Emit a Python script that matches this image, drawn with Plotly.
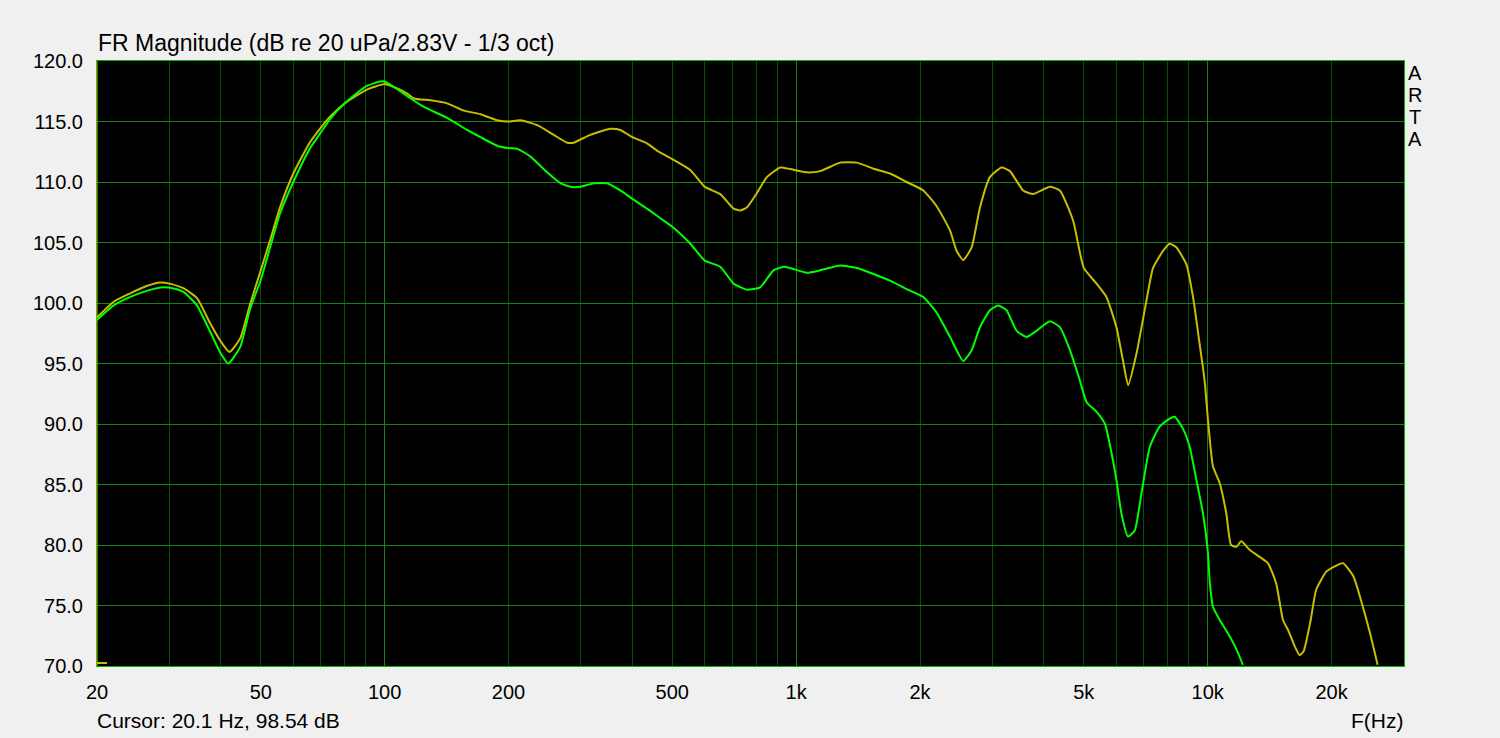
import plotly.graph_objects as go

# ---------------- data ----------------
freq_yellow = [20, 21.95, 24.1, 26.4, 28.5, 30, 32.5, 35, 37.7, 40, 42, 44.6, 47.1, 50, 52.7, 55.7,
               60, 65.9, 70, 73.7, 80, 90, 100, 105.3, 113.5, 117.8, 129.3, 141.9, 155.8, 171, 187.7,
               200, 213.8, 234.8, 257.6, 277.6, 288, 316, 353.6, 374, 400, 434, 459, 500, 553, 600,
               654, 705, 731, 759, 800, 849, 915, 967, 1061, 1144, 1279, 1404, 1541, 1691, 1856,
               2037, 2195, 2365, 2455, 2547, 2670, 2797, 2957, 3157, 3307, 3562, 3767, 4135, 4374,
               4711, 5000, 5370, 5675, 6002, 6230, 6408, 6714, 7100, 7367, 7790, 8087, 8393, 8877,
               9213, 9563, 9830, 10020, 10300, 10700, 11100, 11400, 11740, 12070, 12640, 13130,
               14010, 14680, 15240, 15670, 16290, 16720, 17100, 17800, 18350, 19420, 20550, 21320,
               22610, 23830, 24940, 25880]
db_yellow = [98.8, 100.1, 100.8, 101.4, 101.7, 101.6, 101.2, 100.4, 98.3, 96.8, 95.95, 97.1, 99.9,
             102.7, 105.2, 107.9, 110.7, 113.3, 114.5, 115.4, 116.5, 117.6, 118.1, 117.85, 117.3,
             116.9, 116.75, 116.5, 115.9, 115.6, 115.1, 115.0, 115.1, 114.7, 113.9, 113.25, 113.25,
             113.9, 114.4, 114.3, 113.7, 113.2, 112.6, 111.9, 111.0, 109.6, 109.0, 107.8, 107.65,
             107.9, 109.0, 110.4, 111.2, 111.07, 110.8, 110.9, 111.6, 111.6, 111.1, 110.7, 110.0,
             109.3, 108.0, 106.0, 104.3, 103.55, 104.6, 107.9, 110.4, 111.2, 110.9, 109.3, 109.0,
             109.6, 109.3, 106.8, 102.9, 101.6, 100.5, 98.0, 95.2, 93.2, 95.8, 100.2, 102.9, 104.3,
             104.9, 104.6, 103.2, 100.5, 96.6, 93.6, 90.3, 86.5, 85.1, 82.6, 80.0, 79.85, 80.3,
             79.6, 79.2, 78.5, 76.8, 73.8, 73.0, 71.6, 70.9, 71.2, 73.8, 76.3, 77.8, 78.3, 78.5,
             77.4, 74.9, 72.4, 70.1]

freq_green = [20, 21.95, 24.1, 26.4, 29.0, 30.7, 32.5, 35, 37.7, 40, 41.7, 44.6, 47.1, 50, 52.7,
              55.7, 60, 65.9, 70, 73.7, 80, 90, 97.4, 100, 105.3, 115.7, 124.6, 141.9, 158.7, 171,
              187.7, 200, 209.9, 226.2, 248.2, 267.5, 282.8, 299, 322.3, 347.1, 374, 400, 434,
              467.7, 500, 553, 600, 654, 705, 759, 817.6, 881, 931.8, 967, 1061, 1144, 1279, 1404,
              1541, 1691, 1856, 2037, 2195, 2365, 2547, 2670, 2797, 2957, 3098, 3246, 3433, 3630,
              3838, 4135, 4374, 4627, 4891, 5080, 5372, 5630, 5840, 6000, 6172, 6400, 6650, 6900,
              7233, 7647, 8086, 8317, 8713, 9044, 9387, 9743, 10020, 10110, 10300, 10700, 11200,
              11740, 12180]
db_green = [98.6, 99.8, 100.5, 101.0, 101.3, 101.2, 100.9, 99.8, 97.6, 95.8, 95.0, 96.4, 99.5,
            101.9, 104.6, 107.4, 110.0, 112.8, 114.1, 115.2, 116.5, 117.9, 118.3, 118.3, 117.85,
            116.9, 116.2, 115.3, 114.3, 113.7, 113.0, 112.8, 112.75, 112.1, 110.8, 109.9, 109.6,
            109.6, 109.9, 109.9, 109.3, 108.6, 107.8, 107.0, 106.3, 104.9, 103.5, 103.0, 101.6,
            101.1, 101.3, 102.7, 103.0, 102.9, 102.5, 102.7, 103.1, 102.9, 102.4, 101.85, 101.15,
            100.5, 99.2, 97.2, 95.2, 96.1, 98.0, 99.4, 99.8, 99.4, 97.7, 97.2, 97.7, 98.5, 98.0,
            96.1, 93.6, 91.8, 91.0, 90.0, 87.6, 85.4, 82.6, 80.7, 81.2, 84.2, 88.1, 89.8, 90.45,
            90.6, 89.6, 88.1, 85.4, 82.6, 79.3, 77.1, 74.9, 73.8, 72.7, 71.4, 70.1]

x_tick_vals = [20, 50, 100, 200, 500, 1000, 2000, 5000, 10000, 20000]
x_tick_text = ["20", "50", "100", "200", "500", "1k", "2k", "5k", "10k", "20k"]
x_minor_vals = [30, 40, 60, 70, 80, 90, 300, 400, 600, 700, 800, 900,
                3000, 4000, 6000, 7000, 8000, 9000]
x_decades = [100, 1000, 10000]
y_tick_vals = [70, 75, 80, 85, 90, 95, 100, 105, 110, 115, 120]

title_text = "FR Magnitude (dB re 20 uPa/2.83V - 1/3 oct)"
cursor_text = "Cursor: 20.1 Hz, 98.54 dB"
side_letters = ["A", "R", "T", "A"]

# ---------------- styling ----------------
FONT = "Liberation Sans, Arial, sans-serif"
BG = "#F0F0F0"
MINOR_GRID = "#0A4E0A"
MAJOR_GRID = "#148214"
BORDER = "#00B400"
YELLOW = "#C8BE00"
GREEN = "#00FF00"

fig = go.Figure()
fig.add_trace(go.Scatter(x=freq_yellow, y=db_yellow, mode="lines",
                         line=dict(color=YELLOW, width=2, shape="spline", smoothing=0.5),
                         hoverinfo="skip"))
fig.add_trace(go.Scatter(x=freq_green, y=db_green, mode="lines",
                         line=dict(color=GREEN, width=2, shape="spline", smoothing=0.5),
                         hoverinfo="skip"))

xr = [1.3010299957, 4.4771212547]
fig.update_layout(
    width=1500, height=738,
    margin=dict(l=97, r=96, t=61, b=72),
    paper_bgcolor=BG, plot_bgcolor="#000000",
    showlegend=False,
    font=dict(family=FONT, size=20, color="#000000"),
    xaxis=dict(type="log", range=xr, tickmode="array", tickvals=x_tick_vals,
               ticktext=x_tick_text, showgrid=True, gridcolor=MINOR_GRID, gridwidth=1,
               minor=dict(tickmode="array", tickvals=x_minor_vals, showgrid=True,
                          gridcolor=MINOR_GRID, gridwidth=1, ticks=""),
               ticks="", ticklabelstandoff=8, showline=True, linecolor=BORDER,
               linewidth=1, mirror=True, zeroline=False,
               tickfont=dict(family=FONT, size=20, color="#000000")),
    xaxis2=dict(type="log", range=xr, overlaying="x", tickmode="array", tickvals=x_decades,
                showticklabels=False, showgrid=True, gridcolor=MAJOR_GRID, gridwidth=1,
                ticks="", zeroline=False, showline=False),
    yaxis=dict(range=[70, 120], tickmode="array", tickvals=y_tick_vals, tickformat=".1f",
               showgrid=True, gridcolor=MAJOR_GRID, gridwidth=1, ticks="",
               ticklabelstandoff=9, showline=True, linecolor=BORDER, linewidth=1,
               mirror=True, zeroline=False,
               tickfont=dict(family=FONT, size=20, color="#000000")),
)

# invisible trace to activate the decade-grid overlay axis
fig.add_trace(go.Scatter(x=[x_decades[0]], y=[None], xaxis="x2", mode="lines",
                         hoverinfo="skip", showlegend=False))

# cursor marker (yellow) at the left edge
fig.add_shape(type="line", xref="paper", yref="paper", x0=0, x1=0, y0=0, y1=1,
              line=dict(color="#A8C400", width=1))
fig.add_shape(type="line", xref="paper", yref="paper", xsizemode="pixel", xanchor=0,
              x0=0, x1=10, y0=0.005, y1=0.005, line=dict(color=YELLOW, width=2))

fig.add_annotation(text=title_text, xref="paper", yref="paper", x=0, y=1,
                   xanchor="left", yanchor="middle", xshift=-1, yshift=18,
                   showarrow=False, font=dict(family=FONT, size=23, color="#000000"))
fig.add_annotation(text=cursor_text, xref="paper", yref="paper", x=0, y=0,
                   xanchor="left", yanchor="middle", xshift=-2, yshift=-54,
                   showarrow=False, font=dict(family=FONT, size=21, color="#000000"))
fig.add_annotation(text="F(Hz)", xref="paper", yref="paper", x=1, y=0,
                   xanchor="right", yanchor="middle", xshift=1, yshift=-54,
                   showarrow=False, font=dict(family=FONT, size=21, color="#000000"))
for i, letter in enumerate(side_letters):
    fig.add_annotation(text=letter, xref="paper", yref="paper", x=1, y=1,
                       xanchor="center", yanchor="middle", xshift=11,
                       yshift=-(12 + 22 * i), showarrow=False,
                       font=dict(family=FONT, size=20, color="#000000"))

fig.write_html("out.html", config={"displayModeBar": False},
               post_script="document.body.style.margin='0';")
